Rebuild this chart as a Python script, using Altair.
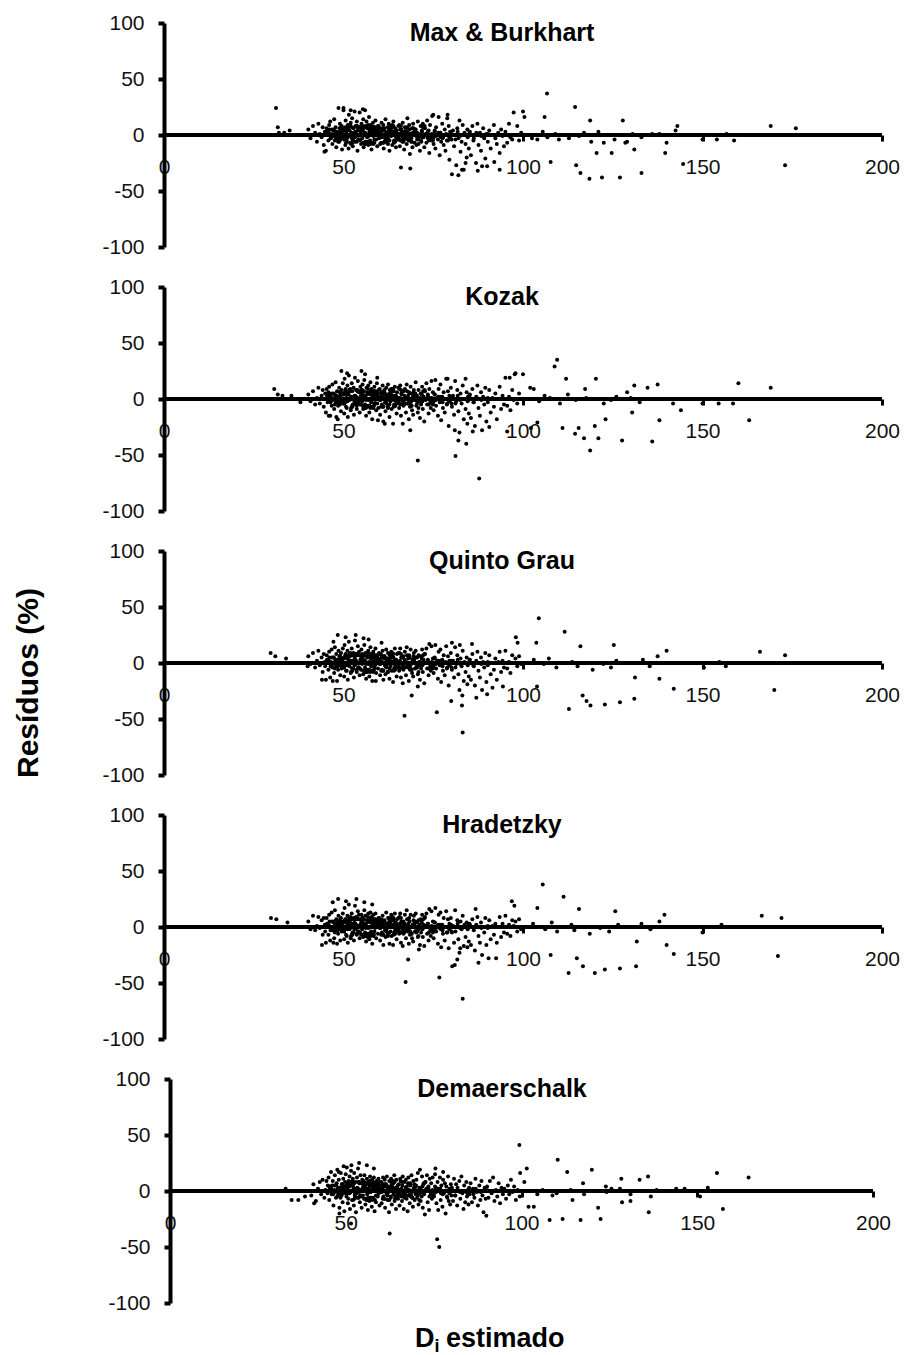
import altair as alt
import pandas as pd

FONT = "Liberation Sans, Arial, Helvetica, sans-serif"

TITLES = ["Max & Burkhart", "Kozak", "Quinto Grau", "Hradetzky", "Demaerschalk"]
X_TICKS = [0, 50, 100, 150, 200]
Y_TICKS = [-100, -50, 0, 50, 100]
Y_LABEL = "Resíduos (%)"
X_LABEL_MAIN = "D"
X_LABEL_SUB = "i"
X_LABEL_REST = "estimado"

# estimated diameters of the dense cloud (shared by all five models)
CLUSTER_X = [
    40.2, 40.8, 41.5, 42.1, 42.6, 43.0, 43.4, 43.9, 44.2, 44.5, 44.8, 44.9,
    45.1, 45.3, 45.6, 45.8, 46.0, 46.3, 46.5, 46.7, 46.9, 47.2, 47.4, 47.6, 47.8, 48.0, 48.2, 48.4, 48.6, 48.8, 49.0, 49.1, 49.3, 49.5, 49.6, 49.8, 49.9,
    50.0, 50.2, 50.3, 50.5, 50.6, 50.8, 50.9, 51.1, 51.2, 51.4, 51.5, 51.7, 51.8, 52.0, 52.1, 52.3, 52.4, 52.6, 52.8, 52.9, 53.1, 53.2, 53.4, 53.5, 53.7, 53.9, 54.0, 54.2, 54.3, 54.5, 54.7, 54.9,
    55.0, 55.2, 55.3, 55.5, 55.6, 55.8, 56.0, 56.1, 56.3, 56.4, 56.6, 56.7, 56.9, 57.1, 57.2, 57.4, 57.5, 57.7, 57.8, 58.0, 58.2, 58.3, 58.5, 58.6, 58.8, 58.9, 59.1, 59.3, 59.4, 59.6, 59.7, 59.9,
    60.1, 60.2, 60.4, 60.6, 60.7, 60.9, 61.1, 61.2, 61.4, 61.6, 61.7, 61.9, 62.1, 62.3, 62.4, 62.6, 62.8, 62.9, 63.1, 63.3, 63.4, 63.6, 63.8, 63.9, 64.1, 64.3, 64.4, 64.6, 64.8, 64.9,
    65.1, 65.3, 65.5, 65.7, 65.8, 66.0, 66.2, 66.4, 66.5, 66.7, 66.9, 67.1, 67.3, 67.4, 67.6, 67.8, 68.0, 68.2, 68.3, 68.5, 68.7, 68.9, 69.1, 69.2, 69.4, 69.6, 69.8, 69.9,
    70.1, 70.3, 70.5, 70.7, 70.9, 71.1, 71.3, 71.5, 71.7, 71.9, 72.1, 72.3, 72.5, 72.7, 72.9, 73.1, 73.3, 73.5, 73.7, 73.9, 74.1, 74.3, 74.5, 74.7, 74.9,
    75.1, 75.4, 75.6, 75.8, 76.1, 76.3, 76.5, 76.8, 77.0, 77.2, 77.5, 77.7, 77.9, 78.2, 78.4, 78.6, 78.9, 79.1, 79.3, 79.5, 79.7, 79.9,
    80.2, 80.5, 80.8, 81.1, 81.4, 81.7, 82.0, 82.3, 82.6, 82.9, 83.2, 83.5, 83.7, 84.0, 84.3, 84.5, 84.7, 84.9,
    85.2, 85.5, 85.9, 86.2, 86.6, 86.9, 87.3, 87.6, 88.0, 88.3, 88.6, 88.9, 89.2, 89.5, 89.8,
    90.2, 90.6, 91.0, 91.5, 91.9, 92.3, 92.7, 93.1, 93.5, 93.9, 94.3, 94.7,
    95.1, 95.6, 96.1, 96.5, 97.0, 97.4, 97.9, 98.4, 98.9, 99.5,
]

# the near-zero core of the cloud, indistinguishable between the five panels
CORE_X = [
    45.4, 52.7, 58.1, 63.5, 49.2, 71.8, 55.9, 66.3, 60.8, 47.9, 76.4, 53.6, 68.9, 57.3, 62.2, 50.7, 73.5, 81.2, 56.8, 64.7,
    48.5, 59.6, 54.4, 70.2, 61.9, 46.8, 67.5, 52.1, 78.3, 58.7, 65.4, 50.1, 74.9, 55.2, 63.0, 84.6, 57.9, 69.7, 51.3, 60.3,
    53.0, 66.8, 47.3, 72.6, 56.4, 62.7, 49.8, 79.5, 58.4, 64.1, 54.8, 70.9, 45.9, 61.4, 67.9, 51.9, 75.7, 57.6, 86.3, 63.8,
    50.4, 59.0, 65.9, 53.3, 73.0, 48.9, 61.1, 56.0, 68.4, 82.5, 54.1, 62.9, 46.4, 71.3, 58.2, 64.4, 52.4, 77.1, 60.0, 66.1,
    49.5, 57.0, 63.2, 55.5, 69.3, 51.6, 74.2, 60.6, 47.6, 65.0, 53.9, 80.1, 58.9, 62.4, 67.2, 50.9, 72.0, 56.6, 88.4, 61.7,
    54.6, 48.1, 66.5, 59.3, 70.5, 52.9, 63.6, 57.1, 76.9, 51.0, 64.9, 55.7, 68.1, 46.1, 60.5, 83.4, 58.0, 73.8, 53.8, 62.0,
    49.0, 56.2, 65.2, 61.3, 71.0, 50.5, 58.6, 67.0, 54.0, 78.8, 63.1, 47.0, 59.8, 69.0, 52.2, 75.0, 57.4, 64.0, 90.2, 55.4,
    51.4, 60.9, 66.7, 53.5, 72.2, 48.4, 62.5, 57.8, 68.6, 85.1, 55.0, 61.0, 74.6, 50.0, 59.1, 65.6, 52.6, 79.9, 58.3, 63.3,
    47.7, 54.2, 67.7, 60.1, 70.0, 56.9, 64.2, 51.7, 77.6, 58.8, 62.8, 49.3, 73.3, 55.8, 66.0, 53.1, 81.8, 59.5, 65.3, 57.2,
    50.2, 61.6, 68.2, 54.9, 71.6, 48.7, 63.9, 56.3, 75.4, 52.5, 60.7, 66.9, 58.5, 87.0, 53.7, 64.6, 51.1, 69.5, 57.5, 62.6,
]
CORE_R = [
    3, -5, 1, 7, -2, 4, -8, 0, 6, -3, 2, 8, -6, 5, -1, -7, 3, -4, 9, -2,
    -6, 2, 7, -1, -4, 5, 1, -8, 0, 6, -3, 4, -5, 8, 2, -2, -7, 3, 6, -1,
    1, -3, 5, 8, -6, 0, 4, -2, 7, -5, 3, -8, 2, 6, -4, 9, -1, 4, -3, 1,
    -2, 7, -5, 3, 0, 6, -7, 2, 5, -1, -4, 8, -3, 1, 4, -6, 7, -2, 0, 5,
    4, -1, 6, -7, 2, 8, -3, 5, -5, 1, 7, -4, 3, -8, 0, 5, -2, 6, -1, -3,
    -5, 3, -2, 6, -4, 1, 9, -6, 2, 4, -3, 7, -1, 5, -7, 0, 3, -5, 8, 2,
    6, -8, 1, 4, -2, 7, -4, 3, 0, -5, 5, -1, 8, -6, 2, -3, 6, -7, 1, 4,
    -1, 5, -6, 2, 7, -3, 0, 8, -4, 3, 6, -7, 1, -2, 4, 9, -5, 2, -8, 0,
    2, -4, 7, -1, 5, -6, 3, 0, -3, 6, -5, 4, 1, -7, 8, -2, 3, 5, -4, -6,
    5, 0, -3, 6, -5, 2, 8, -1, 4, -7, 1, -4, 7, 2, -6, 3, -2, 6, -8, 4,
]

RES_MB = [
    5, -3, 8, 2, -6, 10, 1, -2, 7, -9, 3, 0,
    -14, 6, 2, -5, 9, 12, -3, 1, -8, 4, 14, -1, 7, -11, 3, 0, 24, -6, 10, 2, -4, 8, -13, 5, 1,
    22, -2, 6, -9, 13, 3, -5, 0, 9, -12, 18, 4, -7, 11, 1, -3, 15, -10, 6, 2, 21, -6, 8, -1, 12, -14, 4, 7, -4, 20, 0, -8,
    10, -3, 5, 14, -11, 2, 8, -6, 1, 12, -2, 6, -9, 16, 3, -5, 9, 0, -13, 4, 11, -1, 7, -7, 2, 13, -4, 5, -10, 8, 1, -3,
    6, -8, 3, 11, -2, 0, 9, -12, 4, -5, 14, 1, -7, 7, -3, 10, -14, 2, 5, -1, 8, -9, 3, 12, -6, 0, 6, -11, 4, -2,
    -4, 8, 1, -10, 5, -29, 3, -6, 11, 0, -13, 7, -2, 4, -8, 15, 2, -5, 9, -17, 1, -3, 6, -11, 10, 0, -7, 3,
    5, -9, 2, 12, -4, 0, -14, 8, -6, 3, 10, -2, -11, 6, 1, -7, 13, -3, 4, -16, 9, 0, -5, 17, -1,
    -8, 3, -12, 7, 0, -4, 16, -18, 2, -6, 10, -2, -9, 5, -14, 1, 15, -5, 8, -22, 3, -1,
    -35, 4, -10, 0, -27, 6, -3, 13, -15, -6, 9, -31, 2, -8, -20, 5, -1, -12,
    3, -18, 8, -5, 0, -25, 10, -9, 2, -14, -28, 6, -3, -21, 1,
    -6, 4, -12, 0, 9, -3, -8, 2, -16, 5, -1, -10,
    3, -7, 10, -2, -4, 20, 0, 8, -5, 2,
]
RES_KZ = [
    4, -2, 7, -5, 1, 10, -4, 3, 8, -7, 0, 5,
    -12, 9, -3, 6, 11, -15, 2, -6, 13, 0, -9, 4, 15, -2, 7, -18, 1, 10, -5, 3, -11, 8, -1, 14, -4,
    5, -13, 18, -3, 9, 1, -8, 12, -16, 4, 21, -1, 7, -10, 2, 14, -6, 0, 10, -14, 3, 19, -4, 8, -9, 1, 16, -2, 6, -12, 11, -5,
    8, -2, 13, -9, 3, 17, -5, 1, -15, 10, 4, -7, 12, 0, -12, 6, 15, -3, 9, -18, 2, 7, -6, 11, -1, 4, -10, 14, -4, 5, -8, 0,
    9, -14, 2, 6, -5, 12, -20, 1, 8, -3, -11, 10, 4, -7, 13, 0, -16, 5, -2, 9, -9, 3, -22, 7, -1, 11, -6, 2, -13, 6,
    -3, 10, -8, 1, 12, -15, 4, -1, -22, 7, -5, 9, 0, -12, 13, -4, 3, -18, 6, -7, 11, -2, -10, 5, -14, 8, -1, 2,
    15, -6, 3, -12, 8, 0, -17, 5, -3, 11, -9, 2, -20, 7, -1, 14, -5, 4, -13, 9, 1, -8, 16, -2, 6,
    -10, 4, 17, -6, 1, -15, 9, -3, 13, -19, 2, -8, 6, -12, 0, 18, -4, 7, -24, 3, -1, 10,
    -7, 3, -14, 16, -2, 8, -11, -30, 5, -4, 12, -18, 0, -9, 6, -22, 2, -13,
    4, -17, 9, -3, -24, 1, 12, -8, -15, 6, -28, 2, -5, 10, -20,
    -3, 8, -12, 1, -7, 5, -18, 0, 11, -9, 3, -5,
    19, -6, 2, -10, 8, -1, 23, -4, 5, 0,
]
RES_QG = [
    6, -1, 9, -4, 2, 11, -2, 5, -8, 8, 1, -3,
    -15, 7, 3, -6, 10, -13, 1, 12, -4, 5, -9, 14, 0, 8, -16, 3, 11, -2, 6, -11, 9, -5, 2, 13, -1,
    4, -12, 16, -2, 8, 0, -7, 11, -15, 3, 19, -3, 6, -9, 1, 13, -5, 2, 9, -13, 5, 20, -1, 7, -8, 0, 15, -4, 10, -11, 3, -6,
    12, -1, 7, -10, 2, 16, -4, 9, -14, 0, 5, -8, 11, 1, -12, 6, 14, -3, 8, -16, 3, 10, -6, 4, -2, 13, -9, 1, 7, -5, 0, 9,
    3, -11, 8, 1, -6, 11, -15, 0, 6, -2, -10, 12, 4, -8, 9, 2, -14, 7, -3, 10, -7, 1, -17, 5, -1, 13, -4, 3, -12, 8,
    -2, 9, -7, 2, 13, -13, 5, 0, -18, 6, -4, 10, 1, -11, 14, -3, 4, -16, 7, -6, 12, -1, -9, 3, -12, 9, 0, -5,
    11, -4, 5, -10, 7, 1, -15, 6, -2, 12, -8, 3, -18, 8, 0, 13, -5, 2, -11, 17, -1, -7, 15, -3, 4,
    -9, 5, 16, -5, 2, -14, 10, -2, 12, -17, 3, -7, 7, -11, 1, 15, -4, 6, -20, 2, 0, 9,
    -6, 2, -13, 14, -1, 7, -10, -24, 4, -3, 11, -16, 1, -8, 5, -19, 0, -12,
    3, -15, 8, -2, -20, 0, 10, -7, -13, 5, -24, 1, -4, 9, -17,
    -2, 7, -10, 0, -6, 4, -15, 1, 10, -8, 2, -4,
    11, -5, 1, -9, 7, 0, 4, -3, 6, -1,
]
RES_HR = [
    5, -2, 10, -3, 1, 9, -1, 6, -7, 8, 2, -4,
    -14, 8, 2, -7, 11, -12, 0, 13, -3, 4, -10, 15, 1, 7, -15, 4, 10, -1, 5, -12, 8, -4, 3, 12, -2,
    5, -11, 17, -1, 7, 1, -8, 10, -14, 2, 20, -2, 5, -10, 0, 12, -6, 3, 8, -12, 6, 19, -2, 9, -7, 1, 14, -5, 11, -10, 2, -7,
    11, -2, 8, -9, 3, 15, -5, 10, -13, 1, 4, -9, 12, 0, -11, 7, 13, -4, 9, -15, 2, 11, -7, 5, -1, 12, -10, 2, 6, -6, 1, 8,
    4, -12, 7, 2, -5, 10, -16, 1, 5, -3, -9, 13, 3, -7, 8, 1, -15, 6, -4, 11, -8, 2, -16, 6, 0, 12, -3, 4, -11, 7,
    -3, 8, -6, 3, 12, -14, 4, 1, -17, 5, -5, 11, 0, -10, 15, -2, 3, -15, 8, -7, 11, 0, -10, 2, -13, 10, 1, -4,
    12, -5, 4, -9, 6, 2, -16, 7, -1, 11, -9, 2, -17, 9, 1, 12, -6, 3, -12, 16, 0, -8, 14, -2, 5,
    -10, 4, 17, -4, 1, -15, 11, -1, 13, -18, 2, -6, 8, -12, 0, 14, -5, 7, -19, 3, 1, 8,
    -5, 1, -14, 15, 0, 6, -11, -23, 5, -2, 10, -17, 2, -9, 4, -18, 1, -13,
    2, -16, 7, -1, -21, 1, 9, -8, -14, 4, -25, 0, -5, 8, -16,
    -1, 6, -11, 1, -7, 3, -14, 0, 9, -9, 3, -5,
    10, -6, 2, -8, 6, 1, 5, -4, 7, -2,
]
RES_DM = [
    -4, 6, -9, 2, 8, -3, 10, -6, 1, 9, -2, 5,
    12, -8, 4, 17, -3, 9, -13, 1, 14, -6, 7, 19, -1, 10, -15, 3, 16, -4, 6, -10, 11, 2, -18, 8, 0,
    15, -5, 21, 3, -11, 9, -2, 13, -16, 6, 18, 0, -8, 11, 4, -13, 16, -3, 8, -19, 2, 12, -6, 20, -1, 7, -10, 14, 1, -15, 10, -4,
    9, -7, 14, 1, -12, 6, 11, -3, -17, 8, 3, -9, 13, -1, 7, -14, 10, 2, -6, 12, -18, 5, 0, -10, 9, 4, -5, 11, -2, -13, 6, 1,
    8, -11, 3, 12, -5, 0, 10, -15, 6, -2, 13, -8, 4, -19, 9, 1, -6, 11, -12, 3, 7, -3, 14, -9, 2, -16, 10, -1, 5, -7,
    6, -13, 11, -4, 2, -9, 13, 0, -16, 8, -2, 10, -7, 4, -18, 12, 1, -11, 7, -5, 14, -1, -14, 9, 3, -8, 5, -3,
    10, -6, 16, -12, 3, 19, -9, 1, 13, -15, 6, -3, -21, 8, 2, 14, -10, 4, -17, 11, -1, 7, -7, 12, 0,
    -5, 15, 3, -11, 8, -17, 1, 12, -8, 5, -14, 10, -2, 7, -20, 4, -6, 13, -9, 2, -12, 6,
    3, -9, 11, -4, 6, -13, 0, 9, -7, 13, -2, -16, 5, -10, 8, -5, 1, -12,
    -3, 7, -10, 2, -6, 11, -1, -13, 5, -8, 9, -4, -19, 3, -7,
    4, -6, 9, -2, 12, -9, 1, -5, 7, -11, 3, -3,
    2, -7, 5, -3, 10, -1, 4, -8, 1, -5,
]

# scattered points outside the dense cloud, per model
OUT_X_MB = [31.2, 31.7, 32.0, 33.5, 35.0, 44.7, 50.0, 52.0, 55.4, 56.0, 68.6, 75.0, 79.0, 82.0, 83.0, 84.0, 87.4, 90.0, 92.0, 93.5, 100.0, 100.4, 106.0, 106.7, 107.7, 110.5, 114.5, 114.8, 116.0, 118.5, 118.7, 120.5, 122.0, 124.7, 127.0, 127.8, 129.0, 131.0, 133.0, 136.0, 139.6, 140.0, 142.5, 143.0, 144.6, 150.0, 154.0, 156.7, 158.8, 169.0, 173.0, 176.0, 102.5, 104.0, 105.5, 106.8, 109.0, 110.0, 112.8, 115.6, 117.0, 119.0, 121.0, 122.5, 125.5, 128.5, 130.5, 133.0, 138.0]
OUT_Y_MB = [24, 7, 2, 2, 4, -15, 24, 22, 23, 22, -30, 18, 18, -36, -31, -25, -32, -28, -24, -31, 21, 16, 16, 37, -24, 0, 25, -27, -34, -39, 13, -16, -38, -16, -38, 13, -6, -13, -34, 1, -16, -7, 4, 8, -26, -4, -4, 1, -5, 8, -27, 6, -3, -4, 3, -2, 1, -4, -3, -1, 2, -6, 3, -7, -4, -7, 1, -2, 1]
OUT_X_KZ = [30.7, 31.7, 33.0, 35.5, 38.0, 49.4, 51.0, 55.0, 56.0, 59.4, 45.9, 48.0, 59.6, 61.5, 68.6, 70.7, 79.0, 84.0, 81.0, 82.0, 84.2, 81.2, 87.8, 86.0, 90.6, 95.6, 96.3, 97.7, 100.0, 102.0, 103.0, 102.2, 104.0, 108.8, 109.5, 111.0, 112.0, 114.5, 115.5, 117.0, 117.3, 118.7, 120.0, 120.3, 121.0, 123.0, 127.6, 129.0, 130.4, 131.0, 134.7, 136.0, 137.5, 138.0, 141.8, 144.0, 150.0, 154.5, 158.5, 160.0, 163.0, 169.0, 104.5, 106.0, 107.5, 110.3, 112.5, 114.7, 117.6, 122.5, 124.5, 126.0, 130.0, 132.5]
OUT_Y_KZ = [9, 4, 3, 3, -3, 25, 23, 25, 22, 19, -15, -16, -19, -22, -28, -55, 18, 18, -28, -37, -40, -51, -71, -29, -25, -29, 19, 22, 22, 10, 9, -26, -21, 29, 35, -26, 18, -31, -26, -35, 9, -46, -24, 18, -35, -18, -37, 6, -12, 12, 10, -38, 13, -19, -4, -10, -4, -4, -4, 14, -19, 10, -2, 3, 1, -4, 4, -1, 1, -4, -1, 2, 1, -3]
OUT_X_QG = [29.7, 31.0, 34.0, 40.0, 44.0, 47.0, 47.2, 48.4, 50.6, 53.4, 55.6, 57.0, 60.6, 59.0, 67.0, 69.0, 70.7, 76.0, 80.0, 83.0, 83.1, 83.2, 80.2, 82.4, 85.8, 87.0, 90.0, 91.5, 94.4, 98.0, 98.5, 103.7, 104.4, 103.9, 111.6, 112.8, 116.0, 116.6, 117.7, 118.8, 122.8, 125.3, 127.0, 131.0, 131.2, 137.5, 138.0, 140.0, 142.0, 150.4, 154.7, 156.5, 166.0, 170.0, 173.0, 101.0, 103.0, 105.8, 107.2, 109.3, 113.7, 115.2, 119.4, 122.4, 124.5, 126.0, 133.4, 135.3]
OUT_Y_QG = [9, 6, 4, -3, -15, -16, 19, 25, 23, 25, 22, 21, 18, -16, -47, -29, -21, -44, -34, -38, -29, -62, 18, 16, 17, -31, -28, -22, -21, 23, 18, 18, 40, -21, 28, -41, 15, -29, -34, -38, -37, 16, -35, -32, -13, 6, -14, 11, -23, -4, 1, -3, 10, -24, 7, 0, 3, -1, 4, -4, 1, -3, -6, -1, -4, 2, 3, -3]
OUT_X_HR = [29.8, 31.3, 34.4, 47.0, 48.5, 50.7, 53.6, 55.8, 58.0, 44.0, 47.2, 67.3, 68.0, 71.0, 76.7, 80.3, 81.0, 83.2, 81.7, 82.5, 86.8, 87.6, 90.4, 92.5, 96.9, 97.6, 104.0, 105.5, 107.7, 111.3, 112.7, 115.6, 115.0, 116.7, 120.0, 122.8, 125.7, 127.0, 131.5, 131.7, 138.0, 139.4, 140.0, 142.0, 150.0, 155.3, 166.5, 171.0, 172.0, 101.3, 102.8, 106.2, 108.0, 109.5, 113.5, 114.3, 118.6, 121.5, 124.0, 126.5, 133.0, 135.5]
OUT_Y_HR = [8, 7, 4, 22, 25, 23, 25, 22, 20, -16, -14, -49, -29, -20, -45, -35, -34, -64, -29, -19, 16, -32, -28, -28, 23, 19, 17, 38, -25, 27, -41, 16, -28, -35, -41, -38, 14, -37, -35, -13, 5, 11, -16, -24, -5, 2, 10, -26, 8, 0, 3, -2, 4, -4, 2, -3, -6, -1, -4, 2, 3, -2]
OUT_X_DM = [32.9, 34.6, 36.5, 38.4, 41.0, 48.0, 49.4, 51.6, 53.8, 56.0, 58.0, 51.5, 48.2, 62.5, 76.0, 76.6, 75.5, 77.7, 90.0, 99.4, 99.6, 101.5, 100.8, 102.0, 103.5, 108.0, 110.3, 111.7, 113.0, 114.5, 116.8, 117.5, 120.0, 121.8, 122.5, 124.0, 128.4, 128.6, 131.0, 133.6, 136.0, 136.2, 136.8, 144.0, 146.4, 153.0, 150.8, 155.6, 157.3, 164.6, 104.5, 106.0, 108.8, 110.0, 114.0, 117.8, 124.2, 125.6, 128.0, 131.0, 138.4]
OUT_Y_DM = [2, -8, -8, -5, -11, 17, 22, 23, 25, 23, 20, -29, -20, -38, -43, -50, 20, 17, -22, 41, 16, 20, 8, -14, -14, -26, 28, -25, 17, -8, -26, 7, 19, -15, -25, 4, 11, -10, -9, 10, 13, -19, -5, 2, 2, 3, -5, 16, -16, 12, -3, 1, -4, -2, 1, -3, -1, 2, 2, -3, 1]

RESIDUALS = [RES_MB, RES_KZ, RES_QG, RES_HR, RES_DM]
OUT_X = [OUT_X_MB, OUT_X_KZ, OUT_X_QG, OUT_X_HR, OUT_X_DM]
OUT_Y = [OUT_Y_MB, OUT_Y_KZ, OUT_Y_QG, OUT_Y_HR, OUT_Y_DM]

W, H = 718, 224


def make_panel(i):
    res = RESIDUALS[i]
    n = min(len(CLUSTER_X), len(res))
    m = min(len(OUT_X[i]), len(OUT_Y[i]))
    k = min(len(CORE_X), len(CORE_R))
    df = pd.DataFrame({
        "d": list(CLUSTER_X[:n]) + list(CORE_X[:k]) + list(OUT_X[i][:m]),
        "r": list(res[:n]) + list(CORE_R[:k]) + list(OUT_Y[i][:m]),
    })
    last = (i == 4)
    x_domain = [-1.71, 202.56] if last else [0, 200]
    y_off = -6 if last else 0

    x_axis = alt.Axis(values=X_TICKS, offset=-H / 2, domain=False, grid=False,
                      tickSize=6, tickWidth=3, tickColor="black",
                      labelPadding=15, labelFont=FONT, labelFontSize=21,
                      labelColor="#111", labelFlush=False, labelOverlap=False,
                      labelExpr="'' + datum.value", title=None)
    y_axis = alt.Axis(values=Y_TICKS, offset=y_off, domain=True, domainWidth=4,
                      domainColor="black", grid=False, tickSize=6, tickWidth=4,
                      tickColor="black", labelPadding=14, labelFont=FONT,
                      labelFontSize=21, labelColor="#111", labelFlush=False,
                      labelOverlap=False, labelExpr="'' + datum.value", title=None)
    xs = alt.Scale(domain=x_domain, nice=False, zero=False)
    ys = alt.Scale(domain=[-100, 100], nice=False)

    pts = alt.Chart(df).mark_circle(size=16, color="black", opacity=1).encode(
        x=alt.X("d:Q", scale=xs, axis=x_axis),
        y=alt.Y("r:Q", scale=ys, axis=y_axis),
    )
    zero_df = pd.DataFrame({"d": [X_TICKS[0]], "d2": [X_TICKS[-1]], "r": [0]})
    zero = alt.Chart(zero_df).mark_rule(color="black", strokeWidth=4).encode(
        x=alt.X("d:Q", scale=xs, axis=x_axis),
        x2="d2:Q",
        y=alt.Y("r:Q", scale=ys, axis=y_axis),
    )
    ttl = alt.Chart(pd.DataFrame({"t": [TITLES[i]]})).mark_text(
        font=FONT, fontSize=25, fontWeight="bold", color="black",
        align="center", baseline="alphabetic",
    ).encode(x=alt.value(338), y=alt.value(17.5), text="t:N")
    layers = [pts, zero, ttl]

    if i == 2:
        ylab = alt.Chart(pd.DataFrame({"t": [Y_LABEL]})).mark_text(
            font=FONT, fontSize=30, fontWeight="bold", color="black",
            align="center", baseline="middle", angle=270,
        ).encode(x=alt.value(-135), y=alt.value(132), text="t:N")
        layers.append(ylab)
    if last:
        d_lab = alt.Chart(pd.DataFrame({"t": [X_LABEL_MAIN]})).mark_text(
            font=FONT, fontSize=27, fontWeight="bold", color="black",
            align="left", baseline="alphabetic",
        ).encode(x=alt.value(251), y=alt.value(267.5), text="t:N")
        i_lab = alt.Chart(pd.DataFrame({"t": [X_LABEL_SUB]})).mark_text(
            font=FONT, fontSize=18, fontWeight="bold", color="black",
            align="left", baseline="alphabetic",
        ).encode(x=alt.value(270.5), y=alt.value(272.5), text="t:N")
        e_lab = alt.Chart(pd.DataFrame({"t": [X_LABEL_REST]})).mark_text(
            font=FONT, fontSize=27, fontWeight="bold", color="black",
            align="left", baseline="alphabetic",
        ).encode(x=alt.value(282), y=alt.value(267.5), text="t:N")
        layers += [d_lab, i_lab, e_lab]

    return alt.layer(*layers).properties(width=W, height=H)


chart = alt.vconcat(*[make_panel(i) for i in range(5)], spacing=40, bounds="flush").properties(
    padding={"left": 14, "top": 12, "right": 4, "bottom": 1},
    background="white",
).configure_view(strokeWidth=0, stroke="transparent")

chart.save("out.html", embed_options={"renderer": "svg", "actions": False})
